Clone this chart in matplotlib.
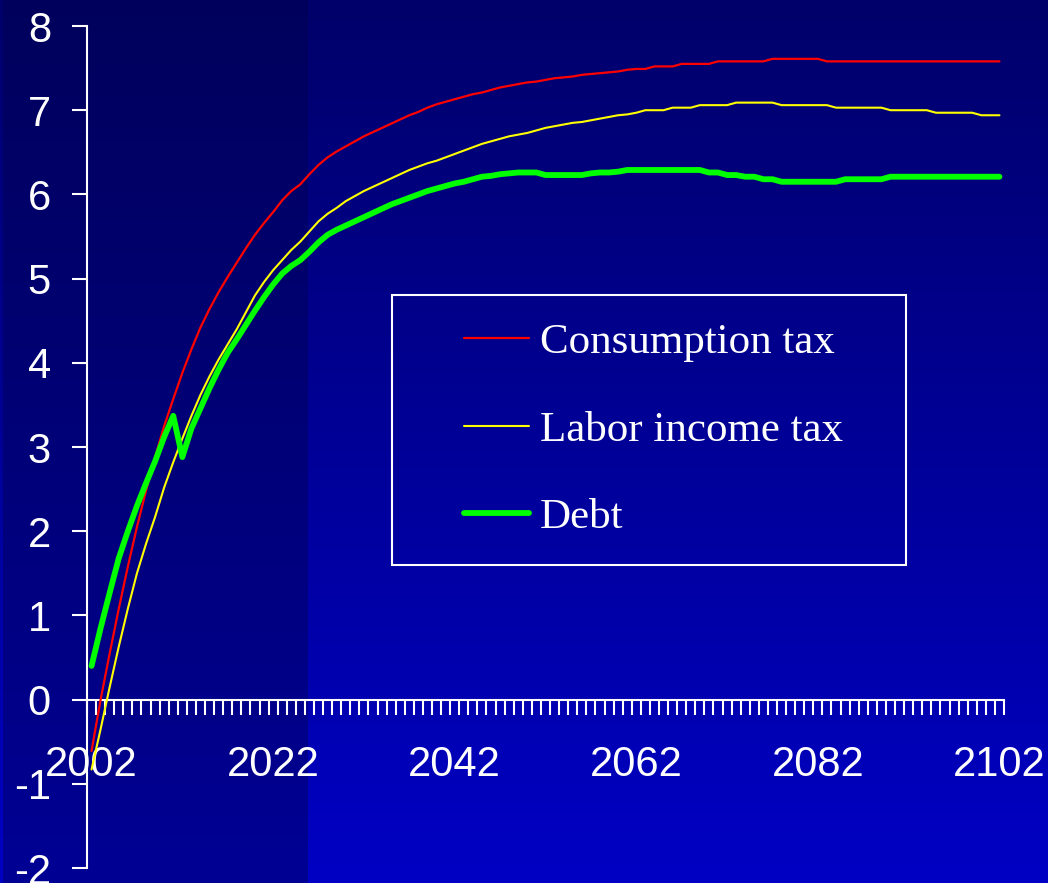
#!/usr/bin/env python3
"""Deficit paths under three financing schemes, 2002-2102."""

import matplotlib

matplotlib.use("Agg")
import matplotlib.pyplot as plt
import numpy as np
from matplotlib.patches import Rectangle
from matplotlib.ticker import FixedLocator, FuncFormatter

YEARS = list(range(2002, 2103))

CONSUMPTION_TAX = [
    -0.61, 0.00, 0.55, 1.08, 1.58, 2.05, 2.48, 2.88, 3.25, 3.57,
    3.88, 4.16, 4.42, 4.64, 4.84, 5.02, 5.19, 5.36, 5.52, 5.66,
    5.79, 5.93, 6.04, 6.12, 6.24, 6.35, 6.44, 6.51, 6.57, 6.63,
    6.69, 6.74, 6.79, 6.84, 6.89, 6.94, 6.98, 7.03, 7.07, 7.10,
    7.13, 7.16, 7.19, 7.21, 7.24, 7.27, 7.29, 7.31, 7.33, 7.34,
    7.36, 7.38, 7.39, 7.40, 7.42, 7.43, 7.44, 7.45, 7.46, 7.48,
    7.49, 7.49, 7.52, 7.52, 7.52, 7.55, 7.55, 7.55, 7.55, 7.58,
    7.58, 7.58, 7.58, 7.58, 7.58, 7.61, 7.61, 7.61, 7.61, 7.61,
    7.61, 7.58, 7.58, 7.58, 7.58, 7.58, 7.58, 7.58, 7.58, 7.58,
    7.58, 7.58, 7.58, 7.58, 7.58, 7.58, 7.58, 7.58, 7.58, 7.58,
    7.58,
]

LABOR_INCOME_TAX = [
    -0.83, -0.35, 0.15, 0.63, 1.08, 1.50, 1.85, 2.17, 2.52, 2.82,
    3.10, 3.37, 3.62, 3.84, 4.04, 4.22, 4.40, 4.60, 4.80, 4.96,
    5.10, 5.22, 5.34, 5.44, 5.56, 5.68, 5.77, 5.84, 5.92, 5.98,
    6.04, 6.09, 6.14, 6.19, 6.24, 6.29, 6.33, 6.37, 6.40, 6.44,
    6.48, 6.52, 6.56, 6.60, 6.63, 6.66, 6.69, 6.71, 6.73, 6.76,
    6.79, 6.81, 6.83, 6.85, 6.86, 6.88, 6.90, 6.92, 6.94, 6.95,
    6.97, 7.00, 7.00, 7.00, 7.03, 7.03, 7.03, 7.06, 7.06, 7.06,
    7.06, 7.09, 7.09, 7.09, 7.09, 7.09, 7.06, 7.06, 7.06, 7.06,
    7.06, 7.06, 7.03, 7.03, 7.03, 7.03, 7.03, 7.03, 7.00, 7.00,
    7.00, 7.00, 7.00, 6.97, 6.97, 6.97, 6.97, 6.97, 6.94, 6.94,
    6.94,
]

DEBT = [
    0.40, 0.85, 1.27, 1.68, 2.00, 2.30, 2.57, 2.83, 3.12, 3.37,
    2.88, 3.22, 3.46, 3.70, 3.92, 4.12, 4.28, 4.45, 4.62, 4.78,
    4.93, 5.06, 5.15, 5.22, 5.32, 5.43, 5.52, 5.58, 5.63, 5.68,
    5.73, 5.78, 5.83, 5.88, 5.92, 5.96, 6.00, 6.04, 6.07, 6.10,
    6.13, 6.15, 6.18, 6.21, 6.22, 6.24, 6.25, 6.26, 6.26, 6.26,
    6.23, 6.23, 6.23, 6.23, 6.23, 6.25, 6.26, 6.26, 6.27, 6.29,
    6.29, 6.29, 6.29, 6.29, 6.29, 6.29, 6.29, 6.29, 6.26, 6.26,
    6.23, 6.23, 6.21, 6.21, 6.18, 6.18, 6.15, 6.15, 6.15, 6.15,
    6.15, 6.15, 6.15, 6.18, 6.18, 6.18, 6.18, 6.18, 6.21, 6.21,
    6.21, 6.21, 6.21, 6.21, 6.21, 6.21, 6.21, 6.21, 6.21, 6.21,
    6.21,
]

SERIES = [
    ("Consumption tax", CONSUMPTION_TAX, "#ff0000", 1.6),
    ("Labor income tax", LABOR_INCOME_TAX, "#ffff00", 1.5),
    ("Debt", DEBT, "#00ff00", 4.2),
]
LABEL_YEARS = [2002, 2022, 2042, 2062, 2082, 2102]
Y_TICKS = list(range(-2, 9))

W, H, DPI = 1048, 883, 100


def vertical_gradient(top, bottom, rows=256):
    t = np.linspace(0.0, 1.0, rows)[:, None, None]
    top = np.array(matplotlib.colors.to_rgb(top))[None, None, :]
    bottom = np.array(matplotlib.colors.to_rgb(bottom))[None, None, :]
    return top * (1 - t) + bottom * t


def draw_background(fig):
    bg = fig.add_axes([0, 0, 1, 1], zorder=-10)
    bg.set_xlim(0, W)
    bg.set_ylim(H, 0)
    bg.axis("off")
    bg.imshow(vertical_gradient("#00006a", "#0000c4"), extent=[0, W, H, 0], aspect="auto")
    bg.imshow(vertical_gradient("#00005c", "#000094"), extent=[3, 308, H, 0], aspect="auto")


def main():
    plt.rcParams["font.family"] = ["Liberation Sans", "DejaVu Sans"]
    fig = plt.figure(figsize=(W / DPI, H / DPI), dpi=DPI)
    fig.patch.set_facecolor("#000080")
    draw_background(fig)

    ax = fig.add_axes([87 / W, 15 / H, 917 / W, 842 / H])
    ax.set_facecolor("none")

    for label, values, color, lw in SERIES:
        ax.plot(YEARS, values, color=color, linewidth=lw, label=label,
                solid_capstyle="round", solid_joinstyle="round", zorder=3)

    ax.set_xlim(YEARS[0] - 0.5, YEARS[-1] + 0.5)
    ax.set_ylim(Y_TICKS[0], Y_TICKS[-1])

    for side in ("top", "right"):
        ax.spines[side].set_visible(False)
    ax.spines["bottom"].set_position(("data", 0))
    for side in ("left", "bottom"):
        ax.spines[side].set_color("white")
        ax.spines[side].set_linewidth(1.5)

    ax.set_yticks(Y_TICKS)
    ax.yaxis.set_major_formatter(FuncFormatter(lambda v, _: f"{int(v)}".replace("\u2212", "-")))
    ax.tick_params(axis="y", direction="out", length=11, width=1.5, color="white",
                   labelcolor="white", labelsize=30, pad=15)

    # category boundaries carry the tick marks, labels sit on the categories
    ax.xaxis.set_major_locator(FixedLocator(np.arange(YEARS[0] - 0.5, YEARS[-1] + 1.0, 1.0)))
    ax.xaxis.set_major_formatter(FuncFormatter(lambda v, _: ""))
    ax.xaxis.set_minor_locator(FixedLocator(LABEL_YEARS))
    ax.xaxis.set_minor_formatter(FuncFormatter(lambda v, _: f"{int(round(v))}"))
    ax.tick_params(axis="x", which="major", direction="out", length=11, width=1.5, color="white")
    ax.tick_params(axis="x", which="minor", length=0, labelcolor="white", labelsize=30, pad=33)

    x0, x1 = (392 - 87) / 917, (906 - 87) / 917
    y0, y1 = (868 - 565) / 842, (868 - 295) / 842
    ax.add_patch(Rectangle((x0, y0), x1 - x0, y1 - y0, transform=ax.transAxes,
                           fill=False, edgecolor="white", linewidth=1.5, zorder=4))
    leg = ax.legend(loc="center", bbox_to_anchor=((x0 + x1) / 2 + 0.005, (y0 + y1) / 2),
                    frameon=False, prop={"family": "Liberation Serif", "size": 31},
                    handlelength=1.5, handletextpad=0.25, labelspacing=1.12)
    for text in leg.get_texts():
        text.set_color("white")

    fig.savefig("out.png", dpi=DPI, facecolor=fig.get_facecolor())
    plt.close(fig)


if __name__ == "__main__":
    main()
